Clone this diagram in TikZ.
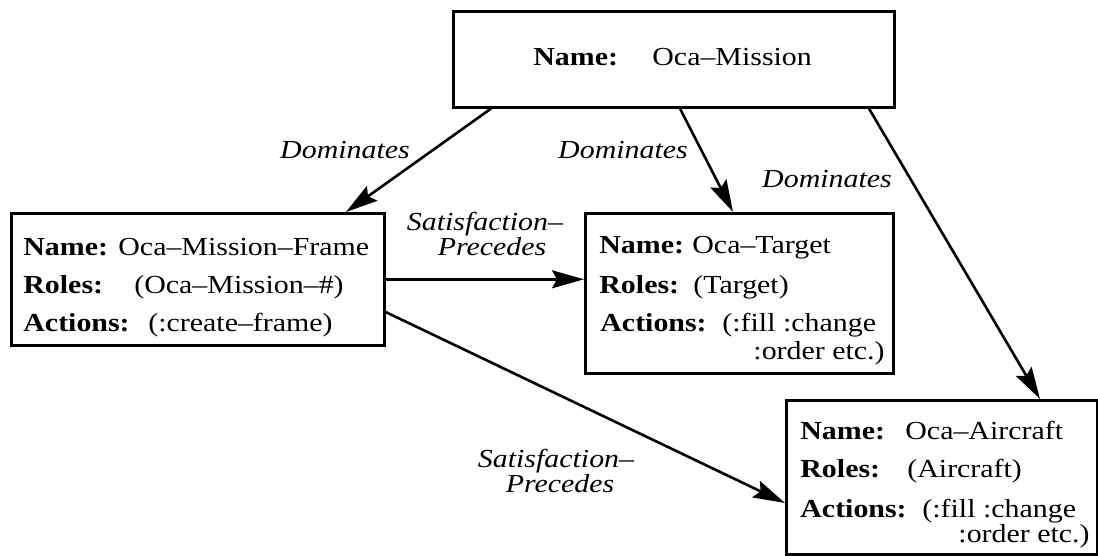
\documentclass[tikz,border=0pt]{standalone}
\usepackage{fontspec}
\setmainfont[FakeStretch=1.15]{Liberation Serif}
\usetikzlibrary{arrows.meta,calc}
\begin{document}
\begin{tikzpicture}[x=0.5pt,y=-0.5pt,
  box/.style={draw, line width=1.3pt, inner sep=0pt, anchor=north west},
  txt/.style={inner sep=0pt, anchor=base west, font=\fontsize{13}{15}\selectfont},
  txte/.style={inner sep=0pt, anchor=base east, font=\fontsize{13}{15}\selectfont},
  lbl/.style={inner sep=0pt, anchor=base, font=\fontsize{13}{15}\selectfont\itshape},
  arr/.style={line width=1.3pt, -{Stealth[length=16pt,width=9pt,inset=2.5pt]}},
]
\useasboundingbox (0,0) rectangle (1098,556);

% boxes
\node[box, minimum width=220.5pt, minimum height=48pt] (top) at (452,10) {};
\node[box, minimum width=186.5pt, minimum height=66pt] (frame) at (10,212) {};
\node[box, minimum width=154pt, minimum height=80pt] (target) at (584,212) {};
\node[box, minimum width=155.5pt, minimum height=77pt] (aircraft) at (785,399) {};

% top box text
\node[txt] (tn) at (533,66) {\textbf{Name:}};
\node[txt] (tv) at (652,66) {Oca--Mission};

% left box text
\node[txt] (fn) at (23,255) {\textbf{Name:}};
\node[txt] (fv) at (118,255) {Oca--Mission--Frame};
\node[txt] (fr) at (23,293) {\textbf{Roles:}};
\node[txt] (frv) at (134,293) {(Oca--Mission--\#)};
\node[txt] (fa) at (23,331) {\textbf{Actions:}};
\node[txt] (fav) at (148,331) {(:create--frame)};

% middle box text
\node[txt] (gn) at (599,253) {\textbf{Name:}};
\node[txt] (gv) at (692,253) {Oca--Target};
\node[txt] (gr) at (599,293) {\textbf{Roles:}};
\node[txt] (grv) at (693,293) {(Target)};
\node[txt] (ga) at (600,331) {\textbf{Actions:}};
\node[txt] (gav) at (722,331) {(:fill :change};
\node[txte] (gav2) at (885,359) {:order etc.)};

% bottom right box text
\node[txt] (an) at (800,439) {\textbf{Name:}};
\node[txt] (av) at (905,439) {Oca--Aircraft};
\node[txt] (ar) at (800,477) {\textbf{Roles:}};
\node[txt] (arv) at (907,477) {(Aircraft)};
\node[txt] (aa) at (800,517) {\textbf{Actions:}};
\node[txt] (aav) at (922,517) {(:fill :change};
\node[txte] (aav2) at (1090,542) {:order etc.)};

% connectors
\draw[arr] ([xshift=19.5pt]top.south west) -- ([xshift=168pt]frame.north west);
\draw[arr] ([xshift=114pt]top.south west) -- ([xshift=74.5pt]target.north west);
\draw[arr] ([xshift=208.5pt]top.south west) -- ([xshift=127.5pt]aircraft.north west);
\draw[arr] (frame.east) -- (target.west |- frame.east);
\draw[arr] ([yshift=-50pt]frame.north east) -- ([yshift=-52pt]aircraft.north west);

% labels
\node[lbl] (d1) at (345,159) {Dominates};
\node[lbl] (d2) at (623,159) {Dominates};
\node[lbl] (d3) at (827,187) {Dominates};
\node[lbl] (s1a) at (485,230) {Satisfaction--};
\node[lbl] (s1b) at (492,256) {Precedes};
\node[lbl] (s2a) at (556,467) {Satisfaction--};
\node[lbl] (s2b) at (560,492) {Precedes};
\end{tikzpicture}
\end{document}
